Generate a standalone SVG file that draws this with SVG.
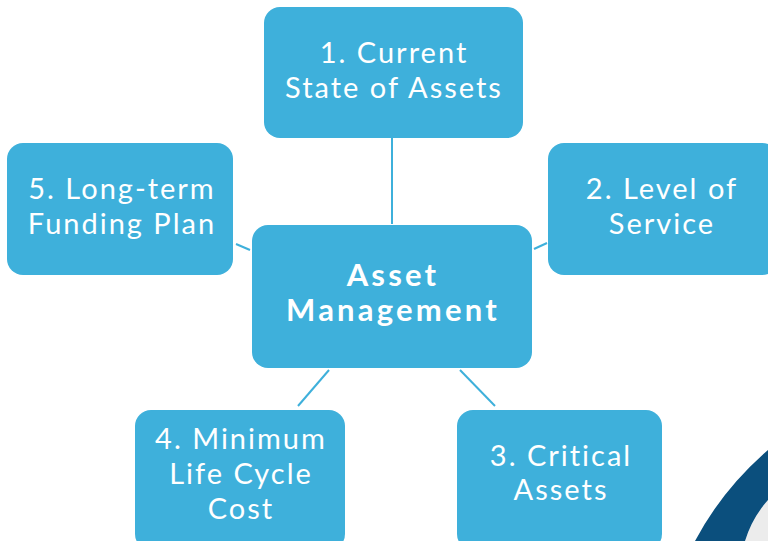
<svg xmlns="http://www.w3.org/2000/svg" width="768" height="541" viewBox="0 0 768 541">
<style>
.box{fill:#3eb0db;}
.t{font-family:Lato,"Open Sans","Liberation Sans",sans-serif;font-size:29px;font-weight:400;letter-spacing:2px;fill:#ffffff;text-anchor:middle;}
.b{font-family:Lato,"Open Sans","Liberation Sans",sans-serif;font-size:31px;font-weight:bold;letter-spacing:3.2px;fill:#ffffff;text-anchor:middle;}
.c{stroke:#3eb0db;stroke-width:2;fill:none;}
</style>
<rect width="768" height="541" fill="#ffffff"/>
<g id="decor">
<path d="M768,500 Q752,518 745,541 L768,541 Z" fill="#ececec"/>
<path d="M768,450 Q722,490 695,541 L745,541 Q752,518 768,500 Z" fill="#0b4f7d"/>
</g>
<g id="connectors">
<line class="c" x1="392" y1="138" x2="392" y2="224"/>
<line class="c" x1="236" y1="244" x2="250" y2="250"/>
<line class="c" x1="534" y1="249" x2="547" y2="243"/>
<line class="c" x1="329" y1="370" x2="298" y2="406"/>
<line class="c" x1="460" y1="370" x2="495" y2="406"/>
</g>
<g id="n1">
<rect class="box" x="264" y="7" width="259" height="131" rx="16"/>
<text class="t" x="394" y="63">1. Current</text>
<text class="t" x="394" y="98">State of Assets</text>
</g>
<g id="n2">
<rect class="box" x="548" y="143" width="230" height="132" rx="16"/>
<text class="t" x="662" y="199">2. Level of</text>
<text class="t" x="662" y="234">Service</text>
</g>
<g id="n5">
<rect class="box" x="7" y="143" width="226" height="132" rx="16"/>
<text class="t" x="122" y="199">5. Long-term</text>
<text class="t" x="122" y="234">Funding Plan</text>
</g>
<g id="center">
<rect class="box" x="252" y="225" width="280" height="143" rx="16"/>
<text class="b" x="393" y="286">Asset</text>
<text class="b" x="393" y="321">Management</text>
</g>
<g id="n4">
<rect class="box" x="135" y="410" width="210" height="140" rx="16"/>
<text class="t" x="241" y="449">4. Minimum</text>
<text class="t" x="241" y="484">Life Cycle</text>
<text class="t" x="241" y="519">Cost</text>
</g>
<g id="n3">
<rect class="box" x="457" y="410" width="205" height="140" rx="16"/>
<text class="t" x="561" y="466">3. Critical</text>
<text class="t" x="561" y="500">Assets</text>
</g>
</svg>
